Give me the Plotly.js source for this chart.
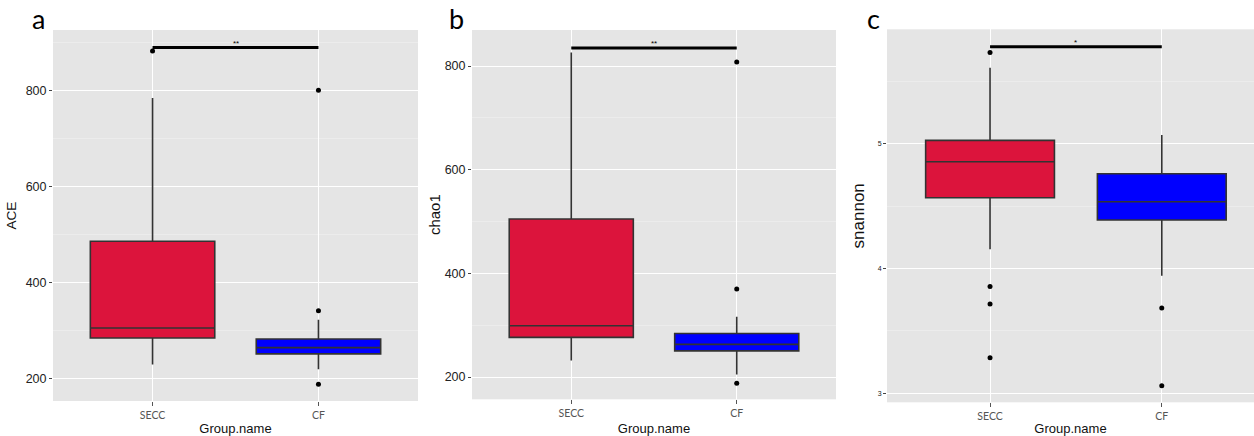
<!DOCTYPE html>
<html>
<head>
<meta charset="utf-8">
<script src="https://cdn.plot.ly/plotly-3.0.1.min.js"></script>
<style>html,body{margin:0;padding:0;background:#fff;}#chart{width:1254px;height:436px;}</style>
</head>
<body>
<div id="chart"></div>
<script>
// ---- data ----
const categories = ["SECC", "CF"];
const groupColors = ["#DC143C", "#0000FF"];
const panelLetters = ["a", "b", "c"];
const yTitles = ["ACE", "chao1", "snannon"];
const xTitle = "Group.name";

// ACE
const aceQ1 = [284, 251];
const aceMedian = [305, 264];
const aceQ3 = [486, 282];
const aceLower = [229, 219];
const aceUpper = [785, 322];
const aceOutGroup = ["SECC", "CF", "CF", "CF"];
const aceOutValue = [883, 801, 341, 187.5];
const aceSig = 890;
const aceStars = "**";

// chao1
const chaoQ1 = [276.5, 250.5];
const chaoMedian = [299, 263];
const chaoQ3 = [505, 284];
const chaoLower = [232, 205];
const chaoUpper = [826, 316.5];
const chaoOutGroup = ["CF", "CF", "CF"];
const chaoOutValue = [808, 370, 188];
const chaoSig = 835;
const chaoStars = "**";

// shannon
const shanQ1 = [4.567, 4.389];
const shanMedian = [4.856, 4.535];
const shanQ3 = [5.027, 4.76];
const shanLower = [4.154, 3.942];
const shanUpper = [5.609, 5.07];
const shanOutGroup = ["SECC", "SECC", "SECC", "SECC", "CF", "CF"];
const shanOutValue = [5.732, 3.856, 3.715, 3.284, 3.683, 3.061];
const shanSig = 5.777;
const shanStars = "*";

const panels = [
  {q1: aceQ1, med: aceMedian, q3: aceQ3, lo: aceLower, up: aceUpper, og: aceOutGroup, ov: aceOutValue, sig: aceSig, stars: aceStars},
  {q1: chaoQ1, med: chaoMedian, q3: chaoQ3, lo: chaoLower, up: chaoUpper, og: chaoOutGroup, ov: chaoOutValue, sig: chaoSig, stars: chaoStars},
  {q1: shanQ1, med: shanMedian, q3: shanQ3, lo: shanLower, up: shanUpper, og: shanOutGroup, ov: shanOutValue, sig: shanSig, stars: shanStars}
];

// ---- layout geometry ----
const W = 1254, H = 436;
const px = v => v / W, py = v => 1 - v / H;
const xDomains = [[px(53), px(418)], [px(472), px(836)], [px(887), 1]];
const yDomains = [[py(401), py(30)], [py(399.3), py(30)], [py(402.3), py(29.3)]];
const yRanges = [[152.7, 926.6], [157, 869.5], [2.928, 5.917]];
const xRanges = [[-0.6, 1.6], [-0.6, 1.6], [-0.6, 1.537]];
const yDticks = [200, 200, 1];
const yTickFont = [12.5, 12.5, 7];
const yTitleFont = [13.5, 15, 17];
const yStandoff = [5, 0, 8];
const letterX = [38, 457, 873];

const traces = [];
const layout = {
  width: W, height: H,
  margin: {l: 0, r: 0, t: 0, b: 0},
  paper_bgcolor: "#FFFFFF",
  plot_bgcolor: "#E5E5E5",
  showlegend: false,
  annotations: []
};

panels.forEach((p, i) => {
  const sx = i === 0 ? "" : String(i + 1);
  const xa = "x" + sx, ya = "y" + sx;
  categories.forEach((c, g) => {
    traces.push({
      type: "box", xaxis: xa, yaxis: ya,
      x: [c], q1: [p.q1[g]], median: [p.med[g]], q3: [p.q3[g]],
      lowerfence: [p.lo[g]], upperfence: [p.up[g]],
      fillcolor: groupColors[g],
      line: {color: "#333333", width: 1.6},
      whiskerwidth: 0, width: 0.75,
      boxpoints: false, hoverinfo: "skip"
    });
  });
  traces.push({
    type: "scatter", mode: "markers", xaxis: xa, yaxis: ya,
    x: p.og, y: p.ov,
    marker: {color: "#000000", size: 5},
    hoverinfo: "skip"
  });
  traces.push({
    type: "scatter", mode: "lines", xaxis: xa, yaxis: ya,
    x: categories, y: [p.sig, p.sig],
    line: {color: "#000000", width: 3},
    hoverinfo: "skip"
  });
  layout.annotations.push({
    xref: xa, yref: ya, x: 0.5, y: p.sig, text: p.stars,
    showarrow: false, yanchor: "bottom", yshift: -2,
    font: {family: "Liberation Sans, Arial, sans-serif", size: 8, color: "#000"}
  });
  layout.annotations.push({
    xref: "paper", yref: "paper", x: px(letterX[i]), y: py(37),
    text: panelLetters[i], showarrow: false, xanchor: "center", yanchor: "bottom",
    font: {family: "Lato, DejaVu Sans, sans-serif", size: 27, color: "#000"}
  });
  layout["xaxis" + sx] = {
    domain: xDomains[i], anchor: ya,
    type: "category", categoryorder: "array", categoryarray: categories,
    range: xRanges[i],
    showgrid: true, gridcolor: "#FFFFFF", gridwidth: 1,
    zeroline: false, showline: false,
    ticks: "outside", ticklen: 4, tickcolor: "#555555", tickwidth: 1,
    tickfont: {family: "Lato, Liberation Sans, sans-serif", size: 10.5, color: "#555555"},
    title: {text: xTitle, standoff: 8, font: {family: "Liberation Sans, Arial, sans-serif", size: 13, color: "#111"}},
    automargin: false, fixedrange: true
  };
  layout["yaxis" + sx] = {
    domain: yDomains[i], anchor: xa,
    range: yRanges[i], dtick: yDticks[i], tick0: 0,
    showgrid: true, gridcolor: "#FFFFFF", gridwidth: 1,
    minor: {dtick: yDticks[i] / 2, showgrid: true, gridcolor: "#F0F0F0", gridwidth: 0.6, ticks: ""},
    zeroline: false, showline: false,
    ticks: "outside", ticklen: 3, tickcolor: "#444444", tickwidth: 1,
    tickfont: {family: "Liberation Sans, Arial, sans-serif", size: yTickFont[i], color: "#222222"},
    title: {text: yTitles[i], standoff: yStandoff[i], font: {family: "Liberation Sans, Arial, sans-serif", size: yTitleFont[i], color: "#111"}},
    automargin: false, fixedrange: true
  };
});

Plotly.newPlot("chart", traces, layout, {displayModeBar: false, staticPlot: true});
</script>
</body>
</html>
